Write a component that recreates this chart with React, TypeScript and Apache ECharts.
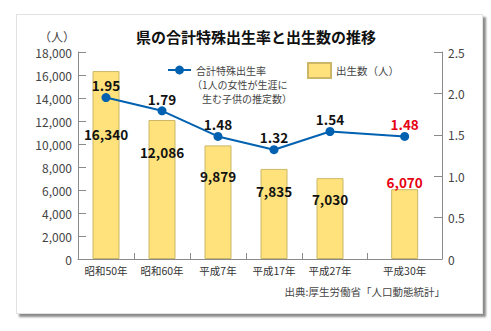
import React, { useEffect, useRef } from 'react';
import * as echarts from 'echarts';

// ---- data ----
const categories = ['昭和50年', '昭和60年', '平成7年', '平成17年', '平成27年', '平成30年'];
const births = [16340, 12086, 9879, 7835, 7030, 6070];
const tfr = [1.95, 1.79, 1.48, 1.32, 1.54, 1.48];
const leftAxis = { min: 0, max: 18000, interval: 2000 };
const rightAxis = { min: 0, max: 2.5, interval: 0.5 };
const titleText = '県の合計特殊出生率と出生数の推移';
const lineName = '合計特殊出生率';
const lineNote = ['（1人の女性が生涯に', '生む子供の推定数）'];
const barName = '出生数（人）';
const unitText = '（人）';
const sourceText = '出典:厚生労働省「人口動態統計」';

// ---- layout (not data) ----
const SLOT_COUNT = 40;
const barSlots = [3, 9, 15, 21, 27, 35];
const tickSlots = [6, 12, 18, 24, 31];
const barLabelDy = [63, 32, 31, 22, 21, -7];

const FONT = '"Noto Sans CJK JP", "Noto Sans", sans-serif';
const RED = '#e60012';
const BLUE = '#0061b0';
const AXIS = '#8a8a8a';
const TXT = '#444';

export default function App() {
  const ref = useRef<HTMLDivElement>(null);
  useEffect(() => {
    const chart = echarts.init(ref.current!, null, { renderer: 'svg' });
    const last = births.length - 1;
    const axisData = Array.from({ length: SLOT_COUNT }, (_, i) => {
      const k = barSlots.indexOf(i);
      return k >= 0 ? categories[k] : ' '.repeat(i + 1);
    });
    const barData = axisData.map((_, i) => {
      const k = barSlots.indexOf(i);
      if (k < 0) return '-';
      return {
        value: births[k],
        label: {
          position: ['50%', barLabelDy[k]],
          align: 'center',
          verticalAlign: 'middle',
          color: k === last ? RED : '#111',
        },
      };
    });
    const lineData = axisData.map((_, i) => {
      const k = barSlots.indexOf(i);
      if (k < 0) return '-';
      return { value: tfr[k], label: { color: k === last ? RED : '#111' } };
    });

    chart.setOption({
      animation: false,
      textStyle: { fontFamily: FONT },
      grid: { left: 78, right: 49, top: 52, bottom: 72, containLabel: false },
      legend: [
        {
          data: [lineName],
          left: 167,
          top: 64.5,
          padding: 0,
          itemWidth: 23,
          itemHeight: 11,
          itemGap: 6,
          textStyle: { fontFamily: FONT, fontSize: 10, lineHeight: 11, color: TXT },
        },
        {
          data: [barName],
          left: 307,
          top: 62,
          padding: 0,
          icon: 'rect',
          itemWidth: 23,
          itemHeight: 15,
          textStyle: { fontFamily: FONT, fontSize: 10.5, lineHeight: 11, color: TXT },
        },
      ],
      xAxis: {
        type: 'category',
        boundaryGap: false,
        data: axisData,
        axisLine: { lineStyle: { color: AXIS, width: 1 } },
        axisTick: {
          show: true,
          inside: true,
          length: 6,
          interval: (i: number) => tickSlots.includes(i),
          lineStyle: { color: AXIS },
        },
        axisLabel: {
          interval: (i: number) => barSlots.includes(i),
          color: '#333',
          fontSize: 10.5,
          fontFamily: FONT,
          margin: 6,
        },
        splitLine: { show: false },
      },
      yAxis: [
        {
          type: 'value',
          ...leftAxis,
          name: unitText,
          nameLocation: 'end',
          nameGap: 10,
          nameTextStyle: { color: TXT, fontSize: 12, fontFamily: FONT, align: 'right', padding: [0, 3, 0, 0] },
          axisLine: { show: true, lineStyle: { color: AXIS } },
          axisTick: { show: true, inside: true, length: 8, lineStyle: { color: AXIS } },
          axisLabel: {
            color: TXT,
            fontSize: 12,
            fontFamily: FONT,
            margin: 6,
            formatter: (v: number) => v.toLocaleString('en-US'),
          },
          splitLine: { show: false },
        },
        {
          type: 'value',
          position: 'right',
          ...rightAxis,
          axisLine: { show: true, lineStyle: { color: AXIS } },
          axisTick: { show: true, inside: true, length: 8, lineStyle: { color: AXIS } },
          axisLabel: {
            color: TXT,
            fontSize: 12,
            fontFamily: FONT,
            margin: 6,
            formatter: (v: number) => (v === 0 ? '0' : v.toFixed(1)),
          },
          splitLine: { show: false },
        },
      ],
      series: [
        {
          name: barName,
          type: 'bar',
          yAxisIndex: 0,
          barWidth: 27,
          data: barData,
          itemStyle: { color: '#ffe27c', borderColor: '#cbb767', borderWidth: 1 },
          label: {
            show: true,
            fontSize: 13.5,
            fontWeight: 'bold',
            fontFamily: FONT,
            formatter: (p: any) => Number(p.value).toLocaleString('en-US'),
          },
          z: 1,
        },
        {
          name: lineName,
          type: 'line',
          yAxisIndex: 1,
          data: lineData,
          connectNulls: true,
          symbol: 'circle',
          symbolSize: 9,
          lineStyle: { color: BLUE, width: 2 },
          itemStyle: { color: BLUE },
          label: {
            show: true,
            position: 'top',
            distance: 1,
            fontSize: 13.5,
            fontWeight: 'bold',
            fontFamily: FONT,
            formatter: (p: any) => Number(p.value).toFixed(2),
          },
          z: 3,
        },
      ],
      graphic: [
        {
          type: 'text',
          x: 256,
          y: 36,
          style: {
            text: titleText,
            fontFamily: FONT,
            fontSize: 15,
            fontWeight: 'bold',
            fill: '#111',
            align: 'center',
            verticalAlign: 'middle',
          },
        },
        {
          type: 'text',
          x: 192,
          y: 84,
          style: { text: lineNote[0], fontFamily: FONT, fontSize: 10, fill: TXT, align: 'left', verticalAlign: 'middle' },
        },
        {
          type: 'text',
          x: 202,
          y: 98,
          style: { text: lineNote[1], fontFamily: FONT, fontSize: 10, fill: TXT, align: 'left', verticalAlign: 'middle' },
        },
        {
          type: 'text',
          x: 445,
          y: 291,
          style: { text: sourceText, fontFamily: FONT, fontSize: 10.5, fill: TXT, align: 'right', verticalAlign: 'middle' },
        },
      ],
    });
    return () => chart.dispose();
  }, []);

  return (
    <div style={{ position: 'fixed', left: 0, top: 0, width: 491, height: 331, background: '#fff', overflow: 'hidden' }}>
      <div
        style={{
          position: 'absolute',
          left: 16,
          top: 14,
          width: 465,
          height: 298,
          background: '#fff',
          border: '1px solid #e2e2e2',
          boxShadow: '3px 3px 2px rgba(0,0,0,0.45)',
        }}
      />
      <div ref={ref} style={{ position: 'absolute', left: 0, top: 0, width: 491, height: 331 }} />
    </div>
  );
}
